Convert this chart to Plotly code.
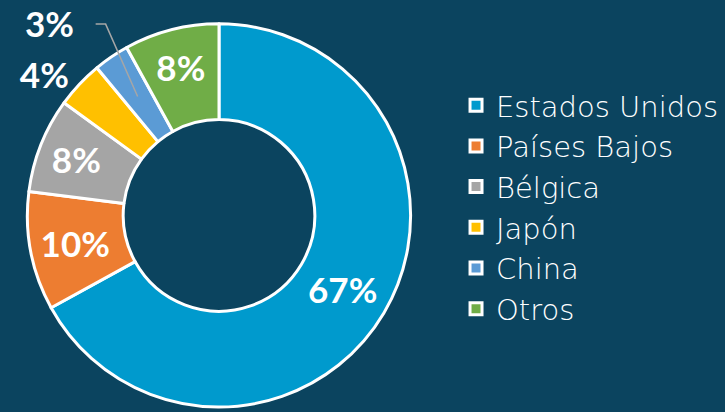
import math
import plotly.graph_objects as go

labels = ["Estados Unidos", "Países Bajos", "Bélgica", "Japón", "China", "Otros"]
values = [67, 10, 8, 4, 3, 8]
colors = ["#009ACD", "#ED7D31", "#A5A5A5", "#FFC000", "#5B9BD5", "#70AD47"]
text_positions = ["inside", "inside", "inside", "outside", "none", "inside"]
callout_index = 4  # China label drawn with a leader line

bg = "#0B445F"
W, H = 725, 412
dom_x = [26 / W, 412 / W]
dom_y = [2 / H, 388 / H]

fig = go.Figure(go.Pie(
    labels=labels,
    values=values,
    hole=0.5,
    sort=False,
    direction="clockwise",
    rotation=0,
    marker=dict(colors=colors, line=dict(color="white", width=3)),
    texttemplate="%{percent:.0%}",
    textposition=text_positions,
    insidetextorientation="horizontal",
    textfont=dict(family="Lato", size=35, color="white", weight="bold"),
    outsidetextfont=dict(family="Lato", size=35, color="white", weight="bold"),
    domain=dict(x=dom_x, y=dom_y),
))

# leader line for the small China slice, computed from the data
total = sum(values)
frac_mid = (sum(values[:callout_index]) + values[callout_index] / 2) / total
theta = 2 * math.pi * frac_mid
cx = (dom_x[0] + dom_x[1]) / 2 * W
cy = H - (dom_y[0] + dom_y[1]) / 2 * H  # pixel from top
R = min((dom_x[1] - dom_x[0]) * W, (dom_y[1] - dom_y[0]) * H) / 2
r_anchor = 0.75 * R
ax_px = cx + r_anchor * math.sin(theta)
ay_px = cy - r_anchor * math.cos(theta)
elbow_px = (ax_px - 32, ay_px - 73)
end_px = (elbow_px[0] - 10, elbow_px[1])


def to_paper(px, py):
    return px / W, 1 - py / H


p0, p1, p2 = to_paper(ax_px, ay_px), to_paper(*elbow_px), to_paper(*end_px)
fig.add_shape(
    type="path", xref="paper", yref="paper",
    path=f"M {p0[0]},{p0[1]} L {p1[0]},{p1[1]} L {p2[0]},{p2[1]}",
    line=dict(color="#A6A6A6", width=1.5),
)
lx, ly = to_paper(end_px[0] - 20, end_px[1] - 1)
fig.add_annotation(
    x=lx, y=ly, xref="paper", yref="paper", xanchor="right", yanchor="middle",
    text=f"{values[callout_index] / total:.0%}", showarrow=False,
    font=dict(family="Lato", size=35, color="white", weight="bold"),
)

fig.update_layout(
    width=W, height=H,
    margin=dict(l=0, r=0, t=0, b=0),
    paper_bgcolor=bg, plot_bgcolor=bg,
    showlegend=True,
    legend=dict(
        x=0.629, y=0.493, xanchor="left", yanchor="middle",
        font=dict(family="DejaVu Sans", size=29, color="white", weight=200),
        itemwidth=30, bgcolor="rgba(0,0,0,0)",
    ),
)

fig.write_html("out.html", config={"displayModeBar": False})
with open("out.html", encoding="utf-8") as f:
    html = f.read()
html = html.replace("<head>", "<head><style>html,body{margin:0;padding:0;background:%s;}</style>" % bg, 1)
with open("out.html", "w", encoding="utf-8") as f:
    f.write(html)
